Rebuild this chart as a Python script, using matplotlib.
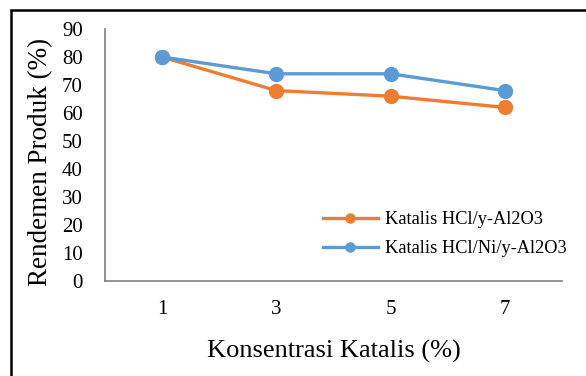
import matplotlib.pyplot as plt
from matplotlib.patches import Rectangle

# catalyst concentration (%) and product yield (%)
konsentrasi = ['1', '3', '5', '7']
rendemen_hcl_al2o3 = [80, 68, 66, 62]
rendemen_hcl_ni_al2o3 = [80, 74, 74, 68]

plt.rcParams['font.family'] = ['Liberation Serif', 'DejaVu Serif']

fig = plt.figure(figsize=(5.86, 3.76), dpi=100)
ax = fig.add_axes([105 / 586, 1 - 281 / 376, 457 / 586, 252 / 376])

x = range(len(konsentrasi))
ax.plot(x, rendemen_hcl_al2o3, color='#ED7D31', lw=2.4, marker='o', ms=10,
        label='Katalis HCl/y-Al2O3')
ax.plot(x, rendemen_hcl_ni_al2o3, color='#5B9BD5', lw=2.4, marker='o', ms=10,
        label='Katalis HCl/Ni/y-Al2O3')

ax.set_xlim(-0.5, len(konsentrasi) - 0.5)
ax.set_ylim(0, 90)
ax.set_yticks(range(0, 91, 10))
ax.set_xticks(list(x))
ax.set_xticklabels(konsentrasi)
ax.tick_params(axis='both', length=0, labelsize=15)
ax.tick_params(axis='y', pad=16)
ax.tick_params(axis='x', pad=14)

for side in ['top', 'right']:
    ax.spines[side].set_visible(False)
for side in ['left', 'bottom']:
    ax.spines[side].set_color('#808080')
    ax.spines[side].set_linewidth(1.2)

ax.set_xlabel('Konsentrasi Katalis (%)', fontsize=19, labelpad=15)
ax.set_ylabel('Rendemen Produk (%)', fontsize=19.5)
ax.yaxis.set_label_coords(-0.114, 0.472)

leg = ax.legend(loc='center left', bbox_to_anchor=(306 / 586, 1 - 234 / 376),
                bbox_transform=fig.transFigure, frameon=False, fontsize=13.2,
                handlelength=3.0, handletextpad=0.4, labelspacing=0.65,
                markerscale=0.65)

# outer frame around the chart
fig.patches.append(Rectangle((11 / 586, -0.1), 1.2, 1.1 - 10 / 376,
                             transform=fig.transFigure, fill=False,
                             edgecolor='black', lw=1.8, clip_on=False))

fig.savefig('out.png', dpi=100)
